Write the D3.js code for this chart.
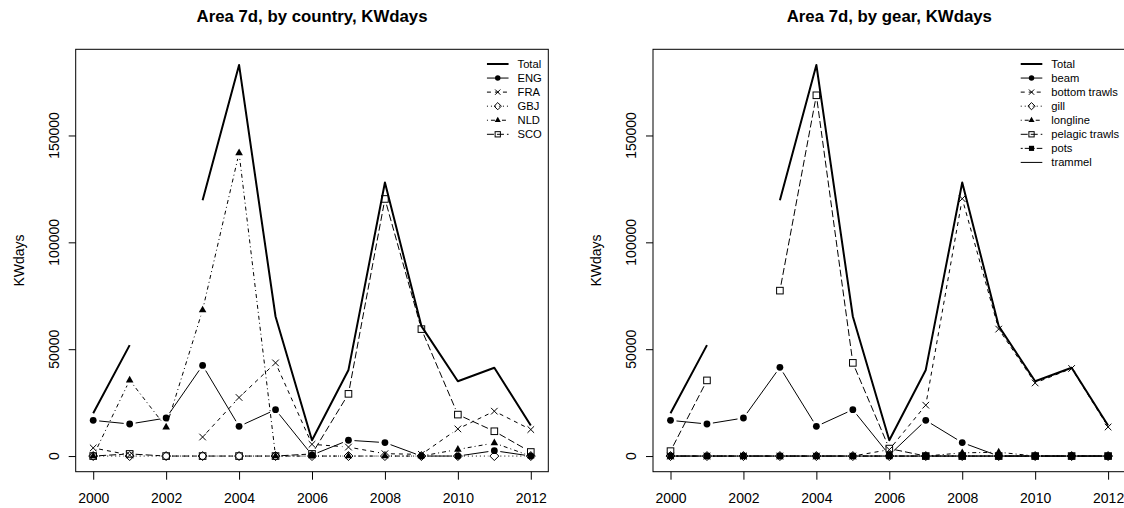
<!DOCTYPE html>
<html>
<head>
<meta charset="utf-8">
<script src="https://cdn.jsdelivr.net/npm/d3@7"></script>
<style>
  html, body { margin: 0; padding: 0; background: #fff; }
  svg { display: block; font-family: "Liberation Sans", Arial, sans-serif; }
</style>
</head>
<body>
<svg id="chart" width="1124" height="508"></svg>
<script>
// ---------------- DATA ----------------
const years = [2000, 2001, 2002, 2003, 2004, 2005, 2006, 2007, 2008, 2009, 2010, 2011, 2012];
const xTicks = [2000, 2002, 2004, 2006, 2008, 2010, 2012];
const yTicks = [0, 50000, 100000, 150000];

const totalKW = [20000, 51900, null, 119700, 183000, 65300, 7400, 40300, 128000, 60800, 35000, 41300, 14300];

// by country
const countryNames = ["ENG", "FRA", "GBJ", "NLD", "SCO"];
const ENG = [16700, 15000, 17800, 42400, 13900, 21700, 500, 7400, 6300, 0, 0, 2500, 0];
const FRA = [3800, 500, null, 8900, 27400, 43600, 5500, 4200, 1100, 800, 12700, 21000, 12400];
const GBJ = [0, 0, 0, 0, 0, 0, 0, 0, 0, 0, 0, 0, 0];
const NLD = [0, 35500, 13500, 68300, 141800, 0, 0, 0, 0, 0, 3100, 6100, 0];
const SCO = [0, 1000, 0, 0, 0, 0, 1000, 29100, 120300, 59400, 19400, 11600, 1900];

// by gear
const gearNames = ["beam", "bottom trawls", "gill", "longline", "pelagic trawls", "pots", "trammel"];
const beam = [16700, 15000, 17800, 41500, 13900, 21700, 500, 16700, 6300, 0, 0, 0, 0];
const bottomTrawls = [0, 0, 0, 0, 0, 0, 3000, 23800, 120400, 59400, 34200, 41000, 13600];
const gill = [0, 0, 0, 0, 0, 0, 0, 0, 0, 0, 0, 0, 0];
const longline = [0, 0, 0, 0, 0, 0, 0, 0, 1500, 1800, 0, 0, 0];
const pelagicTrawls = [2300, 35400, null, 77400, 168800, 43600, 3500, 0, 0, 0, 0, 0, 0];
const pots = [0, 0, 0, 0, 0, 0, 0, 0, 0, 0, 0, 0, 0];
const trammel = [0, 0, 0, 0, 0, 0, 0, 0, 0, 0, 0, 0, 0];

// ---------------- STYLES ----------------
// R line types: 1 solid, 2 dashed, 3 dotted, 4 dotdash, 5 longdash, 6 twodash
const ltyDash = ["none", "4,4", "1,3", "1,3,4,3", "7,3", "2,2,6,2"];
const seriesStyles = [
  { lty: 0, pch: "circleF" },
  { lty: 1, pch: "x" },
  { lty: 2, pch: "diamond" },
  { lty: 3, pch: "triF" },
  { lty: 4, pch: "square" },
  { lty: 5, pch: "squareF" },
  { lty: 0, pch: null }
];

const svg = d3.select("#chart");
const W = 1124, H = 508;

const panels = [
  { title: "Area 7d, by country, KWdays", left: 75.7, names: countryNames,
    values: [ENG, FRA, GBJ, NLD, SCO] },
  { title: "Area 7d, by gear, KWdays", left: 653, names: gearNames,
    values: [beam, bottomTrawls, gill, longline, pelagicTrawls, pots, trammel] }
];

const plotW = 472.6, plotTop = 49.3, plotBottom = 471.7;
const fontAxis = 14, fontLegend = 11.2, fontTitle = 16.8;

function drawSym(g, type, cx, cy, s) {
  if (!type) return;
  if (type === "circleF") {
    g.append("circle").attr("cx", cx).attr("cy", cy).attr("r", 3.4 * s).attr("fill", "#000");
  } else if (type === "x") {
    const a = 3.3 * s;
    g.append("path").attr("d", `M${cx - a},${cy - a}L${cx + a},${cy + a}M${cx - a},${cy + a}L${cx + a},${cy - a}`)
      .attr("stroke", "#000").attr("stroke-width", 1).attr("fill", "none");
  } else if (type === "diamond") {
    const a = 4.5 * s;
    g.append("path").attr("d", `M${cx},${cy - a}L${cx + a},${cy}L${cx},${cy + a}L${cx - a},${cy}Z`)
      .attr("stroke", "#000").attr("stroke-width", 1).attr("fill", "none");
  } else if (type === "triF") {
    const r = 4.4 * s;
    const hx = r * Math.sqrt(3) / 2;
    g.append("path").attr("d", `M${cx},${cy - r}L${cx + hx},${cy + r / 2}L${cx - hx},${cy + r / 2}Z`)
      .attr("fill", "#000");
  } else if (type === "square") {
    const a = 3.3 * s;
    g.append("rect").attr("x", cx - a).attr("y", cy - a).attr("width", 2 * a).attr("height", 2 * a)
      .attr("stroke", "#000").attr("stroke-width", 1).attr("fill", "none");
  } else if (type === "squareF") {
    const a = 3.2 * s;
    g.append("rect").attr("x", cx - a).attr("y", cy - a).attr("width", 2 * a).attr("height", 2 * a)
      .attr("fill", "#000");
  }
}

panels.forEach(p => {
  const left = p.left, right = p.left + plotW;
  const xExt = d3.extent(years);
  const xPad = (xExt[1] - xExt[0]) * 0.04;
  const x = d3.scaleLinear().domain([xExt[0] - xPad, xExt[1] + xPad]).range([left, right]);

  const allVals = [totalKW, ...p.values].flat().filter(v => v != null);
  const yExt = d3.extent(allVals);
  const yPad = (yExt[1] - yExt[0]) * 0.04;
  const y = d3.scaleLinear().domain([yExt[0] - yPad, yExt[1] + yPad]).range([plotBottom, plotTop]);

  const g = svg.append("g");

  // clip
  const clipId = "clip" + Math.round(left);
  svg.append("clipPath").attr("id", clipId).append("rect")
    .attr("x", left).attr("y", plotTop).attr("width", plotW).attr("height", plotBottom - plotTop);
  const plotG = g.append("g").attr("clip-path", `url(#${clipId})`);

  // series with type "b"
  const gap = 6;
  p.values.forEach((vals, si) => {
    const st = seriesStyles[si];
    const sg = plotG.append("g");
    for (let i = 0; i < years.length - 1; i++) {
      const v1 = vals[i], v2 = vals[i + 1];
      if (v1 == null || v2 == null) continue;
      const x1 = x(years[i]), y1 = y(v1), x2 = x(years[i + 1]), y2 = y(v2);
      const L = Math.hypot(x2 - x1, y2 - y1);
      const gg = st.pch ? gap : 0;
      if (L <= 2 * gg) continue;
      const ux = (x2 - x1) / L, uy = (y2 - y1) / L;
      sg.append("line")
        .attr("x1", x1 + ux * gg).attr("y1", y1 + uy * gg)
        .attr("x2", x2 - ux * gg).attr("y2", y2 - uy * gg)
        .attr("stroke", "#000").attr("stroke-width", 1)
        .attr("stroke-dasharray", ltyDash[st.lty]);
    }
    vals.forEach((v, i) => {
      if (v == null) return;
      drawSym(sg, st.pch, x(years[i]), y(v), 1);
    });
  });

  // total line
  const line = d3.line().defined(d => d.v != null).x(d => x(d.year)).y(d => y(d.v));
  plotG.append("path")
    .datum(years.map((yr, i) => ({ year: yr, v: totalKW[i] })))
    .attr("d", line)
    .attr("fill", "none").attr("stroke", "#000").attr("stroke-width", 2)
    .attr("stroke-linejoin", "round");

  // box
  g.append("rect").attr("x", left).attr("y", plotTop).attr("width", plotW).attr("height", plotBottom - plotTop)
    .attr("fill", "none").attr("stroke", "#000").attr("stroke-width", 1);

  // x axis
  const xAxis = d3.axisBottom(x).tickValues(xTicks).tickFormat(d3.format("d")).tickSize(8).tickPadding(13);
  const xa = g.append("g").attr("transform", `translate(0,${plotBottom})`).call(xAxis);
  xa.select(".domain").remove();
  xa.selectAll("text").attr("font-size", fontAxis).attr("font-family", "Liberation Sans, Arial, sans-serif")
    .attr("fill", "#000");
  xa.selectAll("line").attr("stroke", "#000");

  // y axis
  const yAxis = d3.axisLeft(y).tickValues(yTicks).tickFormat(d3.format("d")).tickSize(7).tickFormat("");
  const ya = g.append("g").attr("transform", `translate(${left},0)`).call(yAxis);
  ya.select(".domain").remove();
  ya.selectAll("line").attr("stroke", "#000");
  g.append("g").selectAll("text").data(yTicks).join("text")
    .attr("transform", d => `translate(${left - 17.2},${y(d)}) rotate(-90)`)
    .attr("text-anchor", "middle").attr("font-size", fontAxis).attr("fill", "#000")
    .text(d => d3.format("d")(d));

  // y label
  g.append("text")
    .attr("transform", `translate(${left - 51.7},${(plotTop + plotBottom) / 2}) rotate(-90)`)
    .attr("text-anchor", "middle").attr("font-size", fontAxis).attr("fill", "#000")
    .text("KWdays");

  // title
  g.append("text").attr("x", (left + right) / 2).attr("y", 21.5)
    .attr("text-anchor", "middle").attr("font-size", fontTitle).attr("font-weight", "bold").attr("fill", "#000")
    .text(p.title);

  // legend
  const labels = ["Total", ...p.names];
  const lg = g.append("g");
  const tmp = lg.append("g");
  let maxW = 0;
  labels.forEach(l => {
    const t = tmp.append("text").attr("font-size", fontLegend).text(l);
    maxW = Math.max(maxW, t.node().getComputedTextLength());
  });
  tmp.remove();
  const textX = right - 6.5 - maxW;
  const rowH = 14.06, row0 = plotTop + 14.7;
  labels.forEach((l, i) => {
    const cy = row0 + i * rowH;
    lg.append("text").attr("x", textX).attr("y", cy).attr("dy", "0.36em")
      .attr("font-size", fontLegend).attr("fill", "#000").text(l);
    const x1 = textX - 30.6, x2 = textX - 9;
    if (i === 0) {
      lg.append("line").attr("x1", x1).attr("x2", x2).attr("y1", cy).attr("y2", cy)
        .attr("stroke", "#000").attr("stroke-width", 2);
    } else {
      const st = seriesStyles[i - 1];
      lg.append("line").attr("x1", x1).attr("x2", x2).attr("y1", cy).attr("y2", cy)
        .attr("stroke", "#000").attr("stroke-width", 1).attr("stroke-dasharray", ltyDash[st.lty]);
      drawSym(lg, st.pch, (x1 + x2) / 2, cy, 0.8);
    }
  });
});
</script>
</body>
</html>
